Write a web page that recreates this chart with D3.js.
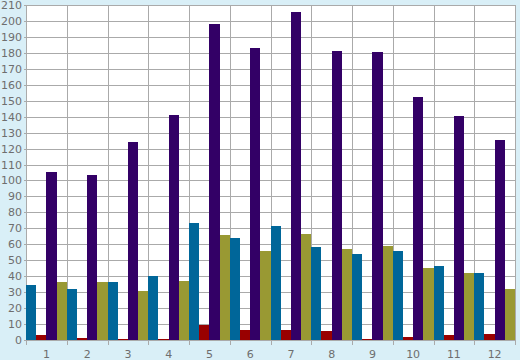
<!DOCTYPE html>
<html><head><meta charset="utf-8">
<script src="https://cdn.jsdelivr.net/npm/d3@7"></script>
<style>body{margin:0;background:#d9eff7}svg{display:block}</style>
</head><body>
<svg id="c" width="520" height="360"></svg>
<script>
const categories = ["1","2","3","4","5","6","7","8","9","10","11","12"];
const seriesNames = ["blue","red","purple","olive"];
const blueValues   = [34.5, 32, 36.4, 40.1, 73.4, 64, 71.5, 58.3, 54, 55.8, 46.4, 42];
const redValues    = [3.1, 1.3, 0.4, 0.4, 9.4, 6.3, 6.3, 5.6, 0.5, 1.9, 3.1, 3.8];
const purpleValues = [105.3, 103.4, 124.1, 141, 198, 183, 205.6, 181, 180.6, 152.4, 140.4, 125.4];
const oliveValues  = [36.4, 36.4, 30.7, 37, 65.8, 55.8, 66.5, 57, 59, 45, 42, 32];
const seriesColors = ["#006699", "#990000", "#330066", "#999933"];
const yTicks = d3.range(0, 211, 10);

const series = [blueValues, redValues, purpleValues, oliveValues];
const svg = d3.select("#c");
const L = 26, R = 515, T = 5, B = 340;
svg.append("rect").attr("x",0).attr("y",0).attr("width",520).attr("height",360).attr("fill","#d9eff7");
svg.append("rect").attr("x",L).attr("y",T).attr("width",R-L).attr("height",B-T).attr("fill","#fff");

const x = d3.scaleBand().domain(categories).range([L, R]).padding(0);
const xi = d3.scaleBand().domain(d3.range(series.length)).range([0, x.bandwidth()]).padding(0);
const y = d3.scaleLinear().domain([0, 210]).range([B, T]);

const grid = svg.append("g").attr("stroke","#aaaaaa").attr("stroke-width",1).attr("shape-rendering","crispEdges");
yTicks.forEach(t => grid.append("line").attr("x1",L-2).attr("x2",R).attr("y1",Math.round(y(t))+0.5).attr("y2",Math.round(y(t))+0.5));
categories.forEach(c => grid.append("line").attr("x1",Math.round(x(c))+0.5).attr("x2",Math.round(x(c))+0.5).attr("y1",T).attr("y2",B+5));
grid.append("line").attr("x1",R+0.5).attr("x2",R+0.5).attr("y1",T).attr("y2",B+5);

const bars = svg.append("g").attr("shape-rendering","crispEdges");
categories.forEach((c, i) => {
  series.forEach((s, k) => {
    bars.append("rect")
      .attr("x", x(c) + xi(k))
      .attr("width", xi.bandwidth())
      .attr("y", y(s[i]))
      .attr("height", B - y(s[i]))
      .attr("fill", seriesColors[k]);
  });
});

const txt = svg.append("g").attr("font-family","DejaVu Sans, sans-serif").attr("font-size","11px").attr("fill","#6e6e6e");
yTicks.forEach(t => txt.append("text").attr("x",22).attr("y",y(t)+4).attr("text-anchor","end").text(t));
categories.forEach(c => txt.append("text").attr("x",x(c)+x.bandwidth()/2).attr("y",358).attr("text-anchor","middle").text(c));
</script>
</body></html>
